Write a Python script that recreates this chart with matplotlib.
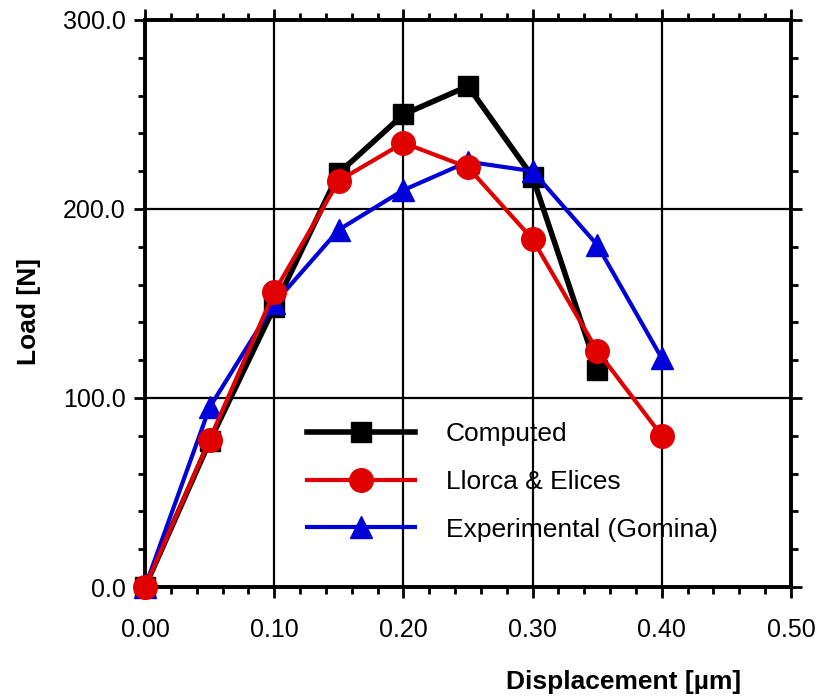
import matplotlib
matplotlib.use('Agg')
import matplotlib.pyplot as plt
from matplotlib.ticker import MultipleLocator, FormatStrFormatter

# data
disp = [0.00, 0.05, 0.10, 0.15, 0.20, 0.25, 0.30, 0.35, 0.40]
computed = [0, 77, 148, 219, 250, 265, 217, 115]
llorca = [0, 78, 156, 215, 235, 222, 184, 125, 80]
gomina = [0, 95, 150, 189, 210, 225, 220, 181, 121]

plt.rcParams['font.family'] = ['Liberation Sans', 'DejaVu Sans']

fig = plt.figure(figsize=(8.22, 6.96), dpi=100)
ax = fig.add_axes([0.1764, 0.1566, 0.7859, 0.8147])

ax.plot(disp[:len(computed)], computed, color='black', lw=4.0, marker='s',
        ms=15, label='Computed', zorder=3, clip_on=False)
ax.plot(disp, gomina, color='#0000d8', lw=3.0, marker='^', ms=16,
        label='Experimental (Gomina)', zorder=4, clip_on=False)
ax.plot(disp, llorca, color='#e00000', lw=3.0, marker='o', ms=17,
        label='Llorca & Elices', zorder=5, clip_on=False)

ax.set_xlim(0, 0.5)
ax.set_ylim(0, 300)
ax.xaxis.set_major_locator(MultipleLocator(0.1))
ax.xaxis.set_minor_locator(MultipleLocator(0.02))
ax.yaxis.set_major_locator(MultipleLocator(100))
ax.yaxis.set_minor_locator(MultipleLocator(20))
ax.xaxis.set_major_formatter(FormatStrFormatter('%.2f'))
ax.yaxis.set_major_formatter(FormatStrFormatter('%.1f'))

ax.grid(True, which='major', color='black', lw=1.6)
for s in ax.spines.values():
    s.set_linewidth(2.8)
ax.tick_params(which='both', direction='out', top=True, right=True,
               width=2, labelsize=18)
ax.tick_params(which='major', length=8)
ax.tick_params(which='minor', length=5)
ax.tick_params(axis='x', pad=14)
ax.tick_params(axis='y', pad=6)
ax.set_axisbelow(True)

fig.text(0.035, 0.553, 'Load [N]', rotation=90, fontsize=19,
         fontweight='bold', va='center', ha='center')
fig.text(0.758, 0.02, 'Displacement [\u00b5m]', fontsize=19,
         fontweight='bold', ha='center', va='center')

h, l = ax.get_legend_handles_labels()
order = [0, 2, 1]
ax.legend([h[i] for i in order], [l[i] for i in order], loc='upper left',
          bbox_to_anchor=(307 / 822, 1 - 422 / 696), bbox_transform=fig.transFigure,
          frameon=False, fontsize=19, numpoints=1, handlelength=4.1,
          handletextpad=1.15, labelspacing=0.9, borderpad=0, borderaxespad=0)

fig.savefig('out.png', dpi=100)
